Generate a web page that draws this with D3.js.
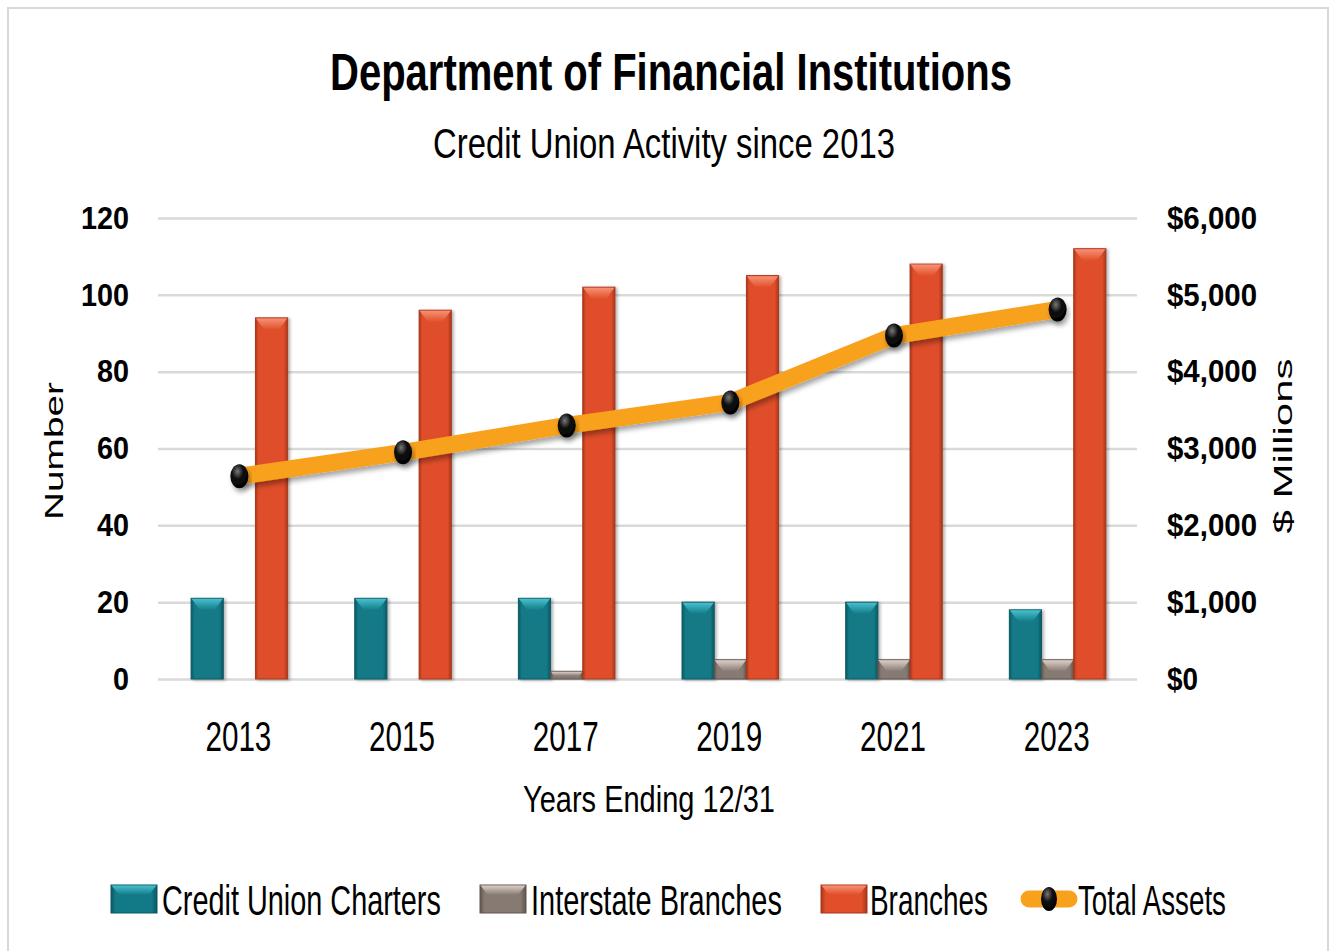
<!DOCTYPE html>
<html>
<head>
<meta charset="utf-8">
<script src="https://d3js.org/d3.v7.min.js"></script>
<style>
  body { margin: 0; background: #fff; }
  text { font-family: "Liberation Sans", Arial, sans-serif; fill: #000; }
</style>
</head>
<body>
<svg id="chart"></svg>
<script>
// data
var years = ["2013", "2015", "2017", "2019", "2021", "2023"];
var charters = [21, 21, 21, 20, 20, 18];
var interstate = [0, 0, 2, 5, 5, 5];
var branches = [94, 96, 102, 105, 108, 112];
var totalAssets = [2640, 2950, 3300, 3600, 4470, 4810];
var seriesNames = ["Credit Union Charters", "Interstate Branches", "Branches"];
var leftTicks = [0, 20, 40, 60, 80, 100, 120];
var rightTicks = [0, 1000, 2000, 3000, 4000, 5000, 6000];

var W = 1330, H = 951;
var plot = {left: 160, right: 1137, top: 218, bottom: 679};

var svg = d3.select("#chart").attr("width", W).attr("height", H);
var defs = svg.append("defs");

// narrow text: draw at 0,0 and squeeze horizontally to the given width
function squeezedText(parent, str, x, y, width, size, opts) {
  opts = opts || {};
  var g = parent.append("g");
  var t = g.append("text").attr("x", 0).attr("y", 0)
    .attr("font-size", size)
    .attr("font-weight", opts.bold ? "bold" : "normal")
    .attr("text-anchor", opts.anchor || "start")
    .text(str);
  var k = width / t.node().getComputedTextLength();
  g.attr("transform", "translate(" + x + "," + y + ")" +
    (opts.rotate ? " rotate(" + opts.rotate + ")" : "") + " scale(" + k + ",1)");
  return g;
}

// bar styling: [edge, main, light top]
var barColors = {
  "Credit Union Charters": ["#0b5862", "#127a86", "#48c0cf"],
  "Interstate Branches":   ["#5f554f", "#877a72", "#dccfc7"],
  "Branches":              ["#a8371b", "#e04e2a", "#f79274"]
};

seriesNames.forEach(function(s, i) {
  var c = barColors[s];
  var g = defs.append("linearGradient").attr("id", "side" + i)
    .attr("x1", 0).attr("x2", 1).attr("y1", 0).attr("y2", 0);
  g.append("stop").attr("offset", 0).attr("stop-color", c[0]);
  g.append("stop").attr("offset", 0.1).attr("stop-color", c[1]);
  g.append("stop").attr("offset", 0.88).attr("stop-color", c[1]);
  g.append("stop").attr("offset", 1).attr("stop-color", c[0]);
  var t = defs.append("linearGradient").attr("id", "top" + i)
    .attr("x1", 0).attr("x2", 0).attr("y1", 0).attr("y2", 1);
  t.append("stop").attr("offset", 0).attr("stop-color", c[2]);
  t.append("stop").attr("offset", 1).attr("stop-color", c[1]);
});

var dot = defs.append("radialGradient").attr("id", "dotGrad")
  .attr("cx", 0.4).attr("cy", 0.3).attr("r", 0.7);
dot.append("stop").attr("offset", 0).attr("stop-color", "#777");
dot.append("stop").attr("offset", 0.45).attr("stop-color", "#111");
dot.append("stop").attr("offset", 1).attr("stop-color", "#000");

var shadow = defs.append("filter").attr("id", "shadow")
  .attr("x", "-10%").attr("y", "-10%").attr("width", "130%").attr("height", "140%");
shadow.append("feDropShadow").attr("dx", 2).attr("dy", 4)
  .attr("stdDeviation", 2.5).attr("flood-color", "#000").attr("flood-opacity", 0.35);

var barShadow = defs.append("filter").attr("id", "barShadow")
  .attr("x", "-20%").attr("y", "-5%").attr("width", "150%").attr("height", "110%");
barShadow.append("feDropShadow").attr("dx", 2).attr("dy", 1)
  .attr("stdDeviation", 1.5).attr("flood-color", "#000").attr("flood-opacity", 0.3);

// outer frame
svg.append("rect").attr("x", 8).attr("y", 8).attr("width", 1320).attr("height", 960)
  .attr("fill", "none").attr("stroke", "#d9d9d9").attr("stroke-width", 2);

// scales
var x = d3.scaleBand().domain(years).range([plot.left, plot.right])
  .paddingInner(0.41).paddingOuter(0.19);
var xs = d3.scaleBand().domain(seriesNames).range([0, x.bandwidth()]);
var y = d3.scaleLinear().domain([0, 120]).range([plot.bottom, plot.top]);
var y2 = d3.scaleLinear().domain([0, 6000]).range([plot.bottom, plot.top]);

// gridlines
svg.append("g")
  .attr("transform", "translate(" + (plot.left - 2) + ",0)")
  .call(d3.axisLeft(y).tickValues(leftTicks).tickSize(-(plot.right - plot.left + 2)).tickFormat(""))
  .call(function(g) {
    g.select(".domain").remove();
    g.selectAll("line").attr("stroke", "#d9d9d9").attr("stroke-width", 2.5);
  });

// left axis labels
svg.append("g")
  .attr("transform", "translate(" + (plot.left - 2) + ",0)")
  .call(d3.axisLeft(y).tickValues(leftTicks).tickSize(0).tickPadding(29))
  .call(function(g) {
    g.select(".domain").remove();
    g.selectAll("text").attr("font-size", 32).attr("font-weight", "bold")
      .style("font-family", "Liberation Sans, Arial, sans-serif").attr("fill", "#000")
      .attr("textLength", function(d) { return String(d).length * 16; })
      .attr("lengthAdjust", "spacingAndGlyphs");
  });

// right axis labels
svg.append("g")
  .attr("transform", "translate(" + plot.right + ",0)")
  .call(d3.axisRight(y2).tickValues(rightTicks).tickSize(0).tickPadding(30)
    .tickFormat(function(d) { return "$" + d3.format(",")(d); }))
  .call(function(g) {
    g.select(".domain").remove();
    g.selectAll("text").attr("font-size", 32).attr("font-weight", "bold")
      .style("font-family", "Liberation Sans, Arial, sans-serif").attr("fill", "#000")
      .attr("textLength", function(d) { return d === 0 ? 31 : 90; })
      .attr("lengthAdjust", "spacingAndGlyphs");
  });

// bars
var rows = years.map(function(yr, i) {
  return {year: yr, values: [charters[i], interstate[i], branches[i]]};
});

var groups = svg.append("g").selectAll("g").data(rows).enter().append("g")
  .attr("transform", function(d) { return "translate(" + x(d.year) + ",0)"; });

groups.each(function(row) {
  var g = d3.select(this);
  row.values.forEach(function(v, si) {
    if (v <= 0) return;
    var s = seriesNames[si];
    var bx = xs(s), bw = xs.bandwidth();
    var top = y(v), h = y(0) - y(v);
    var bar = g.append("g").attr("filter", "url(#barShadow)");
    bar.append("rect").attr("x", bx).attr("y", top).attr("width", bw).attr("height", h)
      .attr("fill", "url(#side" + si + ")")
      .attr("stroke", barColors[s][0]).attr("stroke-width", 1);
    var b = Math.min(12, h * 0.6), ins = Math.min(9, b * 0.75);
    bar.append("path")
      .attr("d", "M" + (bx + 0.5) + "," + (top + 0.5) + "L" + (bx + bw - 0.5) + "," + (top + 0.5) +
        "L" + (bx + bw - ins) + "," + (top + b) + "L" + (bx + ins) + "," + (top + b) + "Z")
      .attr("fill", "url(#top" + si + ")");
  });
});

// total assets line (secondary axis)
var cx = function(i) { return x(years[i]) + x.bandwidth() / 2; };
var line = d3.line().x(function(d, i) { return cx(i); }).y(function(d) { return y2(d); });

svg.append("path").datum(totalAssets)
  .attr("d", line).attr("fill", "none")
  .attr("stroke", "#f8a11c").attr("stroke-width", 17)
  .attr("stroke-linejoin", "round").attr("stroke-linecap", "butt")
  .attr("filter", "url(#shadow)");

svg.append("g").selectAll("ellipse").data(totalAssets).enter().append("ellipse")
  .attr("cx", function(d, i) { return cx(i); })
  .attr("cy", function(d) { return y2(d); })
  .attr("rx", 9).attr("ry", 12)
  .attr("fill", "url(#dotGrad)")
  .attr("filter", "url(#shadow)");

// x labels
var xLabels = svg.append("g");
years.forEach(function(d) {
  squeezedText(xLabels, d, x(d) + x.bandwidth() / 2 - 1, 751, 66, 42, {anchor: "middle"});
});

// titles
squeezedText(svg, "Department of Financial Institutions", 671, 90, 682, 52, {anchor: "middle", bold: true});
squeezedText(svg, "Credit Union Activity since 2013", 664, 158, 462, 43, {anchor: "middle"});
squeezedText(svg, "Years Ending 12/31", 649, 812, 252, 37, {anchor: "middle"});
squeezedText(svg, "Number", 63, 451, 138, 25, {anchor: "middle", rotate: -90});
squeezedText(svg, "$ Millions", 1292, 446, 175, 26, {anchor: "middle", rotate: -90});

// legend
var legendItems = [
  {name: "Credit Union Charters", sx: 111, tx: 162, tw: 279},
  {name: "Interstate Branches", sx: 480, tx: 531, tw: 251},
  {name: "Branches", sx: 821, tx: 870, tw: 118},
  {name: "Total Assets", sx: 1021, tx: 1078, tw: 148}
];
var legend = svg.append("g");
legendItems.forEach(function(item, i) {
  if (i < 3) {
    var lg = legend.append("g");
    lg.append("rect").attr("x", item.sx).attr("y", 885).attr("width", 46).attr("height", 28)
      .attr("fill", "url(#side" + i + ")").attr("stroke", barColors[item.name][0]).attr("stroke-width", 1);
    lg.append("path")
      .attr("d", "M" + (item.sx + 0.5) + ",885.5L" + (item.sx + 45.5) + ",885.5L" +
        (item.sx + 38) + ",895L" + (item.sx + 8) + ",895Z")
      .attr("fill", "url(#top" + i + ")");
  } else {
    legend.append("line").attr("x1", item.sx + 8).attr("x2", item.sx + 48)
      .attr("y1", 899).attr("y2", 899)
      .attr("stroke", "#f8a11c").attr("stroke-width", 17).attr("stroke-linecap", "round");
    legend.append("ellipse").attr("cx", item.sx + 28).attr("cy", 899)
      .attr("rx", 8).attr("ry", 12).attr("fill", "url(#dotGrad)");
  }
  squeezedText(legend, item.name, item.tx, 915, item.tw, 42);
});
</script>
</body>
</html>
